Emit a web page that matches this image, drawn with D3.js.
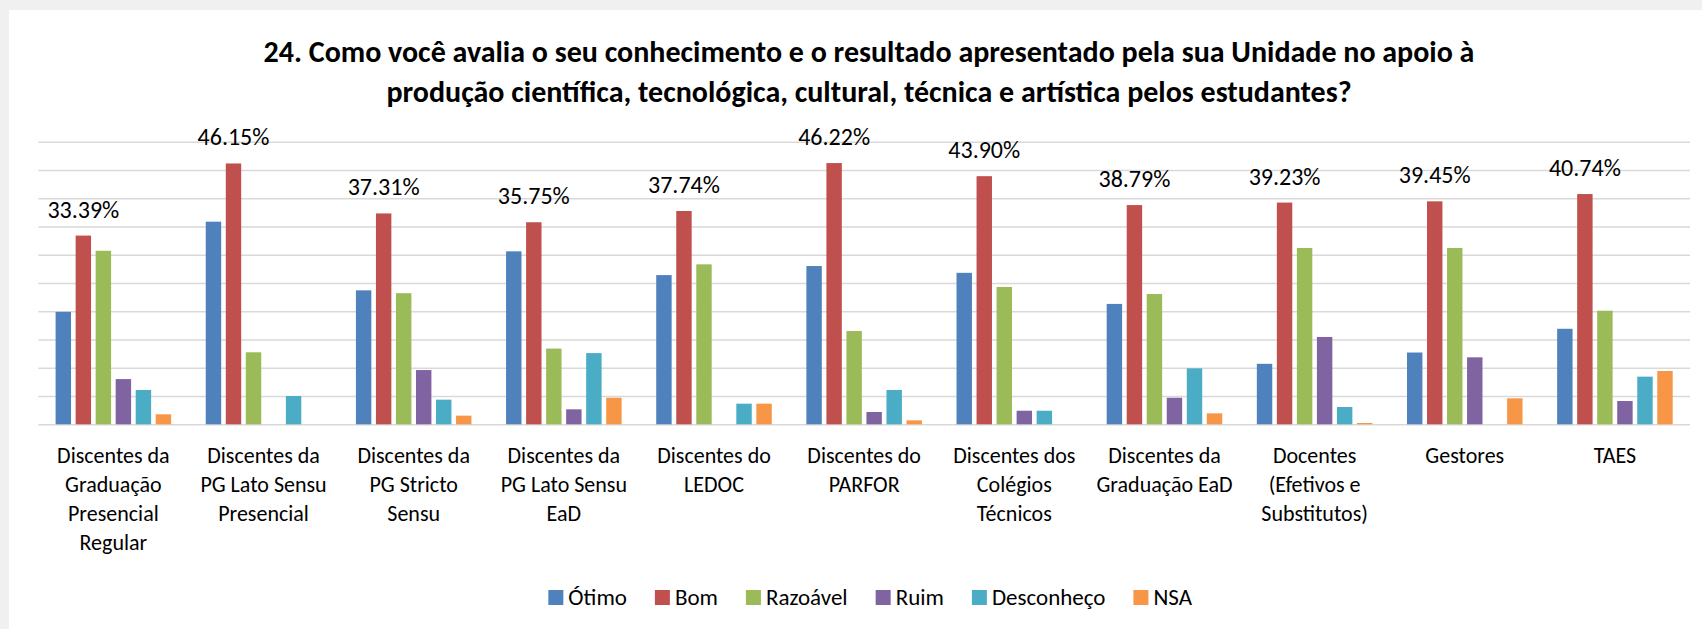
<!DOCTYPE html>
<html>
<head>
<meta charset="utf-8">
<script src="https://cdn.jsdelivr.net/npm/d3@7"></script>
<style>
  html, body { margin: 0; padding: 0; background: #f0f0f0; }
  svg { display: block; }
  text { font-family: Carlito, Calibri, Lato, sans-serif; fill: #000; }
</style>
</head>
<body>
<svg id="chart" width="1702" height="629"></svg>
<script>
// ---------- data ----------
const titleLines = [
  "24. Como você avalia o seu conhecimento e o resultado apresentado pela sua Unidade no apoio à",
  "produção científica, tecnológica, cultural, técnica e artística pelos estudantes?"
];
const categories = [
  "Discentes da\nGraduação\nPresencial\nRegular",
  "Discentes da\nPG Lato Sensu\nPresencial",
  "Discentes da\nPG Stricto\nSensu",
  "Discentes da\nPG Lato Sensu\nEaD",
  "Discentes do\nLEDOC",
  "Discentes do\nPARFOR",
  "Discentes dos\nColégios\nTécnicos",
  "Discentes da\nGraduação EaD",
  "Docentes\n(Efetivos e\nSubstitutos)",
  "Gestores",
  "TAES"
];
const seriesNames = ["Ótimo", "Bom", "Razoável", "Ruim", "Desconheço", "NSA"];
const otimo      = [19.9, 35.85, 23.7, 30.6, 26.4, 28.0, 26.8, 21.3, 10.7, 12.7, 16.9];
const bom        = [33.39, 46.15, 37.31, 35.75, 37.74, 46.22, 43.90, 38.79, 39.23, 39.45, 40.74];
const razoavel   = [30.7, 12.74, 23.2, 13.4, 28.3, 16.5, 24.3, 23.05, 31.2, 31.2, 20.1];
const ruim       = [8.0, 0, 9.6, 2.65, 0, 2.18, 2.4, 4.7, 15.45, 11.85, 4.12];
const desconheco = [6.07, 5.0, 4.36, 12.6, 3.65, 6.07, 2.4, 9.9, 3.06, 0, 8.43];
const nsa        = [1.77, 0, 1.53, 4.7, 3.65, 0.7, 0, 1.94, 0.23, 4.6, 9.43];
const colors = ["#4F81BD", "#C0504D", "#9BBB59", "#8064A2", "#4BACC6", "#F79646"];
const yTicks = [0, 5, 10, 15, 20, 25, 30, 35, 40, 45, 50];

const seriesValues = [otimo, bom, razoavel, ruim, desconheco, nsa];
const labelSeries = 1; // data labels shown on "Bom"

// ---------- layout ----------
const W = 1702, H = 629;
const svg = d3.select("#chart");

svg.append("rect").attr("x", 9).attr("y", 10).attr("width", W - 9).attr("height", H - 10).attr("fill", "#ffffff");

const x0 = d3.scaleBand().domain(d3.range(categories.length)).range([38.3, 1690]).padding(0);
const x1 = d3.scaleBand().domain(d3.range(seriesNames.length))
  .range([15, x0.bandwidth() - 15]).paddingInner(0.23).paddingOuter(0.115);
const y = d3.scaleLinear().domain([0, 50]).range([424.3, 141.7]);

// gridlines
const grid = svg.append("g")
  .attr("transform", "translate(38.3,0)")
  .call(d3.axisLeft(y).tickValues(yTicks).tickSize(-(1690 - 38.3)).tickFormat(""));
grid.select(".domain").remove();
grid.selectAll(".tick line").attr("stroke", "#d9d9d9").attr("stroke-width", 1.6);

// bars
const groups = svg.append("g").selectAll("g")
  .data(categories.map((c, i) => i))
  .join("g")
  .attr("transform", i => `translate(${x0(i)},0)`);

groups.selectAll("rect")
  .data(i => seriesValues.map((arr, s) => ({ s, v: arr[i] })).filter(d => d.v > 0))
  .join("rect")
  .attr("x", d => x1(d.s))
  .attr("width", x1.bandwidth())
  .attr("y", d => y(d.v))
  .attr("height", d => y(0) - y(d.v))
  .attr("fill", d => colors[d.s]);

// data labels (Bom)
groups.append("text")
  .attr("x", i => x1(labelSeries) + x1.bandwidth() / 2)
  .attr("y", i => y(seriesValues[labelSeries][i]) - 18)
  .attr("text-anchor", "middle")
  .attr("font-size", 24)
  .text(i => seriesValues[labelSeries][i].toFixed(2) + "%");

// x axis labels
const xAxis = svg.append("g")
  .attr("transform", `translate(0,${y(0)})`)
  .call(d3.axisBottom(x0).tickSize(0).tickFormat(""));
xAxis.select(".domain").remove();
xAxis.selectAll(".tick").each(function(i) {
  const t = d3.select(this).append("text")
    .attr("text-anchor", "middle")
    .attr("font-size", 22)
    .attr("y", 39);
  categories[i].split("\n").forEach((line, k) => {
    t.append("tspan").attr("x", 0).attr("dy", k === 0 ? 0 : 28.9).text(line);
  });
});

// title
const title = svg.append("text")
  .attr("text-anchor", "middle")
  .attr("font-size", 30)
  .attr("font-weight", "bold");
titleLines.forEach((line, k) => {
  title.append("tspan").attr("x", 869).attr("y", 62 + k * 40).text(line);
});

// legend
const legend = svg.append("g");
let lx = 0;
const items = legend.selectAll("g").data(seriesNames).join("g");
items.append("rect").attr("width", 15).attr("height", 15).attr("y", -15)
  .attr("fill", (d, i) => colors[i]);
items.append("text").attr("x", 20).attr("y", 0).attr("font-size", 23).text(d => d);
items.each(function() {
  const w = this.getBBox().width;
  d3.select(this).attr("transform", `translate(${lx},605)`);
  lx += w + 28;
});
legend.attr("transform", `translate(${870.5 - (lx - 28) / 2},0)`);
</script>
</body>
</html>
